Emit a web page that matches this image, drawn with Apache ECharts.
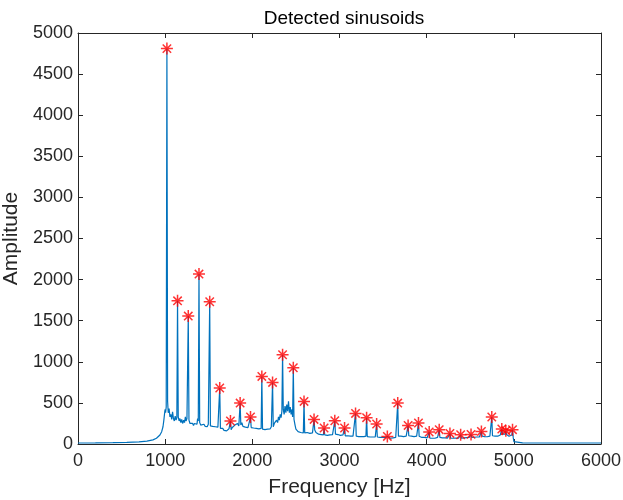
<!DOCTYPE html>
<html>
<head>
<meta charset="utf-8">
<script src="https://cdn.jsdelivr.net/npm/echarts@6/dist/echarts.min.js"></script>
<style>
  html, body { margin: 0; padding: 0; background: #fff; }
  #chart { width: 623px; height: 500px; }
</style>
</head>
<body>
<div id="chart"></div>
<script>
// spectrum: [frequency Hz, amplitude]
var spectrum = [
  [0,12],[200,13],[400,16],[560,20],[700,27],[790,36],[860,50],[900,70],[940,110],[960,150],
  [975,210],[985,290],[995,390],[1000,420],[1005,380],[1012,450],[1020,4810],[1028,520],[1035,380],
  [1045,430],[1055,330],[1065,360],[1075,300],[1085,390],[1095,310],[1105,280],[1115,340],[1125,290],
  [1134,320],[1142,1742],[1150,330],[1160,280],[1170,310],[1180,260],[1190,300],[1200,250],[1212,290],
  [1222,260],[1232,330],[1240,280],[1250,310],[1257,300],[1265,1556],[1273,290],[1285,250],[1295,270],
  [1305,235],[1315,250],[1325,225],[1335,250],[1345,230],[1355,260],[1365,240],[1372,310],[1380,280],
  [1388,2067],[1396,260],[1408,230],[1420,250],[1430,220],[1445,240],[1458,215],[1470,230],[1482,210],
  [1495,240],[1503,220],[1511,1730],[1519,220],[1530,200],[1545,215],[1560,195],[1575,210],[1590,190],
  [1605,205],[1618,195],[1626,681],[1634,190],[1648,175],[1660,190],[1675,165],[1690,180],[1705,160],
  [1718,175],[1732,185],[1741,170],[1749,280],[1757,175],[1770,200],[1785,190],[1800,230],[1815,210],
  [1830,250],[1845,220],[1852,240],[1860,498],[1868,230],[1880,260],[1892,215],[1905,230],[1920,205],
  [1935,215],[1950,200],[1962,220],[1971,205],[1979,328],[1987,200],[2000,185],[2015,195],[2030,175],
  [2045,190],[2060,170],[2075,185],[2090,175],[2101,190],[2109,822],[2117,180],[2130,195],[2145,175],
  [2160,195],[2175,180],[2190,200],[2205,185],[2218,210],[2225,200],[2232,749],[2240,210],[2252,250],
  [2265,230],[2278,290],[2290,260],[2300,330],[2310,290],[2320,360],[2330,320],[2339,400],[2347,1086],
  [2355,420],[2365,360],[2375,460],[2385,380],[2395,480],[2405,400],[2415,520],[2425,380],[2435,450],
  [2445,360],[2455,420],[2462,330],[2470,928],[2478,300],[2490,230],[2500,180],[2512,170],[2525,150],
  [2540,160],[2555,140],[2570,150],[2585,135],[2593,518],[2601,135],[2615,125],[2630,140],[2645,120],
  [2660,130],[2675,115],[2690,135],[2700,150],[2708,299],[2716,170],[2730,140],[2745,150],[2760,120],
  [2775,135],[2790,115],[2805,125],[2815,110],[2823,195],[2831,110],[2845,125],[2860,105],[2875,120],
  [2890,110],[2905,125],[2920,115],[2938,130],[2946,283],[2954,120],[2968,105],[2982,115],[2995,95],
  [3010,105],[3025,95],[3040,110],[3050,100],[3058,195],[3066,100],[3080,90],[3095,100],[3110,85],
  [3125,95],[3140,85],[3155,95],[3168,90],[3176,100],[3184,372],[3192,95],[3205,85],[3220,90],
  [3235,80],[3250,90],[3265,80],[3280,90],[3295,85],[3303,95],[3311,320],[3319,90],[3335,80],
  [3350,85],[3365,75],[3380,85],[3395,75],[3410,85],[3418,90],[3426,243],[3434,85],[3450,75],
  [3465,80],[3480,70],[3495,80],[3510,72],[3525,78],[3541,70],[3549,92],[3557,70],[3570,75],
  [3585,70],[3600,80],[3615,75],[3630,85],[3645,80],[3660,90],[3668,498],[3676,95],[3690,85],
  [3705,95],[3720,80],[3735,90],[3750,85],[3765,95],[3779,100],[3787,226],[3795,100],[3810,90],
  [3825,95],[3840,85],[3855,90],[3870,85],[3885,95],[3898,100],[3906,255],[3914,95],[3930,85],
  [3945,80],[3960,75],[3975,80],[3990,70],[4005,75],[4021,70],[4029,146],[4037,70],[4050,75],
  [4065,70],[4080,78],[4095,70],[4110,75],[4125,80],[4136,85],[4144,174],[4152,80],[4165,72],
  [4180,75],[4195,68],[4210,74],[4225,68],[4240,72],[4259,75],[4267,129],[4275,72],[4290,65],
  [4305,70],[4320,65],[4335,72],[4350,66],[4365,70],[4382,72],[4390,113],[4398,70],[4412,68],
  [4428,75],[4442,70],[4458,78],[4472,72],[4488,80],[4501,78],[4509,117],[4517,80],[4530,75],
  [4545,82],[4560,78],[4575,85],[4590,90],[4605,85],[4620,100],[4628,153],[4636,95],[4650,85],
  [4665,90],[4680,82],[4695,88],[4710,85],[4725,95],[4739,100],[4747,328],[4755,100],[4770,90],
  [4785,95],[4800,88],[4815,95],[4830,100],[4845,110],[4854,130],[4862,182],[4870,120],[4885,110],
  [4900,120],[4908,162],[4916,115],[4930,105],[4945,95],[4960,100],[4977,110],[4985,174],[4993,80],
  [5000,30],[5008,15],[5100,13],[5300,12],[5600,12],[6000,12]
];

// detected peaks (red asterisks)
var peakFreq = [1020, 1142, 1265, 1388, 1511, 1626, 1749, 1860, 1979, 2109, 2232, 2347, 2470, 2593,
  2708, 2823, 2946, 3058, 3184, 3311, 3426, 3549, 3668, 3787, 3906, 4029, 4144, 4267, 4390, 4509,
  4628, 4747, 4862, 4908, 4985];
var peakAmp = [4810, 1742, 1556, 2067, 1730, 681, 280, 498, 328, 822, 749, 1086, 928, 518,
  299, 195, 283, 195, 372, 320, 243, 92, 498, 226, 255, 146, 174, 129, 113, 117,
  153, 328, 182, 162, 174];

var xTicks = [0, 1000, 2000, 3000, 4000, 5000, 6000];
var yTicks = [0, 500, 1000, 1500, 2000, 2500, 3000, 3500, 4000, 4500, 5000];

var peaks = peakFreq.map(function (f, i) { return [f, peakAmp[i]]; });

var axisCol = '#262626';
var font = '"Liberation Sans", Arial, Helvetica, sans-serif';

function boxAxis(pos, isX) {
  var a = {
    type: 'value',
    position: pos,
    min: isX ? xTicks[0] : yTicks[0],
    max: isX ? xTicks[xTicks.length - 1] : yTicks[yTicks.length - 1],
    interval: isX ? xTicks[1] - xTicks[0] : yTicks[1] - yTicks[0],
    axisLine: { show: true, onZero: false, lineStyle: { color: axisCol, width: 1 } },
    axisTick: { show: true, inside: true, length: 5, lineStyle: { color: axisCol } },
    axisLabel: { show: false },
    splitLine: { show: false }
  };
  return a;
}

function plain(v) { return String(v); }

var xMain = boxAxis('bottom', true);
xMain.axisLabel = { show: true, fontSize: 18, color: axisCol, fontFamily: font, margin: 8, formatter: plain };
xMain.name = 'Frequency [Hz]';
xMain.nameLocation = 'middle';
xMain.nameGap = 33;
xMain.nameTextStyle = { fontSize: 21, color: axisCol, fontFamily: font };

var yMain = boxAxis('left', false);
yMain.axisLabel = { show: true, fontSize: 18, color: axisCol, fontFamily: font, margin: 5, formatter: plain };
yMain.name = 'Amplitude';
yMain.nameLocation = 'middle';
yMain.nameGap = 51;
yMain.nameTextStyle = { fontSize: 21, color: axisCol, fontFamily: font };

var chart = echarts.init(document.getElementById('chart'));
chart.setOption({
  animation: false,
  backgroundColor: '#fff',
  title: {
    text: 'Detected sinusoids',
    left: 339,
    textAlign: 'center',
    top: 4,
    textStyle: { fontSize: 19, fontWeight: 'normal', color: '#000', fontFamily: font }
  },
  grid: { left: 78, right: 22, top: 33, bottom: 56, outerBoundsMode: 'none' },
  xAxis: [xMain, boxAxis('top', true)],
  yAxis: [yMain, boxAxis('right', false)],
  series: [
    {
      type: 'line',
      data: spectrum,
      showSymbol: false,
      lineStyle: { color: '#0072BD', width: 1.2 },
      z: 2
    },
    {
      type: 'scatter',
      data: peaks,
      symbol: 'path://M0,-10L0,10M-10,0L10,0M-7,-7L7,7M-7,7L7,-7',
      symbolSize: 12,
      itemStyle: { color: 'none', borderColor: '#ff0000', borderWidth: 1.5 },
      z: 3
    }
  ]
});
</script>
</body>
</html>
